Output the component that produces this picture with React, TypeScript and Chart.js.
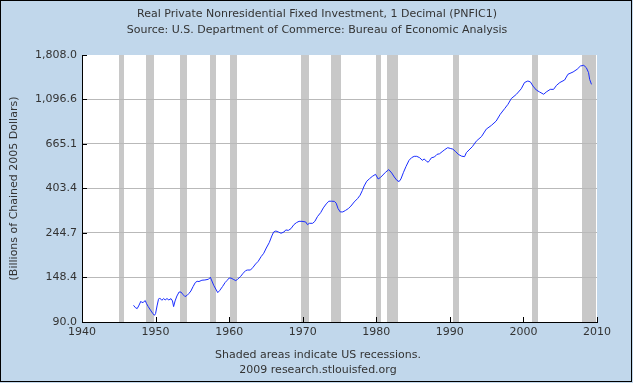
import React, { useEffect, useRef } from "react";
import { Chart, registerables } from "chart.js";

Chart.register(...registerables);

// Observation dates (decimal years) and values (billions of chained 2005 dollars)
const dates = [
  1947.0, 1947.25, 1947.5, 1947.7, 1948.0, 1948.15, 1948.35, 1948.6, 1948.75, 1949.0,
  1949.3, 1949.6, 1949.85, 1950.0, 1950.2, 1950.4, 1950.55, 1950.85, 1951.1, 1951.3,
  1951.55, 1951.8, 1952.1, 1952.3, 1952.45, 1952.65, 1952.9, 1953.2, 1953.45, 1953.7,
  1954.0, 1954.3, 1954.55, 1954.8, 1955.1, 1955.4, 1955.65, 1955.9, 1956.3, 1956.7,
  1957.2, 1957.45, 1957.6, 1957.9, 1958.25, 1958.45, 1958.7, 1959.1, 1959.45, 1959.7,
  1960.0, 1960.25, 1960.55, 1960.9, 1961.15, 1961.55, 1961.9, 1962.25, 1962.5, 1962.9,
  1963.25, 1963.6, 1963.95, 1964.35, 1964.7, 1965.05, 1965.45, 1965.8, 1966.05, 1966.35,
  1966.7, 1967.05, 1967.45, 1967.7, 1968.05, 1968.4, 1968.8, 1969.15, 1969.5, 1969.9,
  1970.4, 1970.65, 1970.9, 1971.35, 1971.65, 1972.0, 1972.45, 1972.8, 1973.2, 1973.55,
  1973.9, 1974.3, 1974.55, 1974.8, 1975.1, 1975.45, 1975.8, 1976.2, 1976.55, 1977.0,
  1977.45, 1977.8, 1978.1, 1978.35, 1978.7, 1979.1, 1979.45, 1979.9, 1980.25, 1980.55,
  1980.9, 1981.25, 1981.7, 1982.1, 1982.45, 1982.8, 1983.1, 1983.35, 1983.7, 1984.05,
  1984.45, 1984.8, 1985.15, 1985.5, 1985.9, 1986.25, 1986.5, 1986.8, 1987.05, 1987.25,
  1987.5, 1987.9, 1988.25, 1988.6, 1988.95, 1989.3, 1989.7, 1990.05, 1990.4, 1990.8,
  1991.15, 1991.6, 1992.0, 1992.25, 1993.05, 1993.6, 1994.3, 1994.95, 1995.65, 1996.3,
  1996.85, 1997.45, 1997.9, 1998.35, 1999.05, 1999.7, 2000.15, 2000.6, 2000.95, 2001.3,
  2001.75, 2002.2, 2002.75, 2003.1, 2003.65, 2004.1, 2004.5, 2004.95, 2005.6, 2006.05,
  2006.75, 2007.3, 2007.75, 2008.2, 2008.55, 2008.85, 2009.0, 2009.25,
];

const values = [
  108.6, 105.8, 104.6, 107.8, 113.6, 111.9, 112.5, 114.5, 111.0, 107.0,
  103.0, 99.3, 97.0, 98.9, 107.8, 116.2, 117.9, 114.9, 117.1, 115.3,
  117.1, 115.3, 117.0, 114.0, 107.0, 114.0, 120.5, 126.1, 126.0, 122.9,
  119.7, 121.5, 124.2, 127.5, 134.0, 140.2, 142.2, 141.8, 143.9, 144.3,
  145.5, 148.8, 144.3, 136.0, 129.0, 125.2, 128.0, 134.0, 140.2, 143.3,
  147.5, 147.5, 145.5, 143.3, 145.5, 150.0, 155.6, 160.4, 161.4, 161.4,
  166.5, 172.8, 178.0, 187.7, 194.8, 206.7, 219.6, 236.6, 247.4, 250.2,
  247.4, 244.0, 247.4, 253.2, 252.0, 256.9, 268.7, 274.9, 278.9, 278.9,
  277.0, 268.7, 272.8, 272.8, 278.9, 294.0, 308.0, 324.4, 339.3, 349.7,
  349.7, 349.0, 342.0, 322.0, 310.0, 310.0, 315.0, 322.0, 331.0, 346.8,
  360.0, 374.0, 394.0, 415.0, 437.6, 451.0, 462.0, 473.0, 449.0, 456.0,
  469.6, 484.0, 498.8, 480.0, 459.0, 442.0, 436.0, 449.0, 484.0, 517.6,
  553.6, 570.5, 579.0, 579.0, 570.0, 553.6, 562.0, 549.6, 541.6, 553.6,
  570.0, 574.6, 592.0, 596.0, 610.0, 624.0, 638.0, 633.0, 628.0, 610.0,
  592.0, 580.0, 577.0, 604.0, 645.0, 687.0, 723.0, 786.0, 820.0, 861.0,
  929.0, 990.0, 1039.0, 1108.0, 1163.0, 1237.0, 1327.0, 1350.0, 1336.0, 1275.0,
  1220.0, 1193.0, 1163.0, 1193.0, 1229.0, 1229.0, 1286.0, 1327.0, 1365.0, 1456.0,
  1494.0, 1540.0, 1598.0, 1610.0, 1568.0, 1484.0, 1376.0, 1300.0,
];

// US recessions (decimal years)
const recessionStart = [1945.0, 1948.75, 1953.35, 1957.45, 1960.17, 1969.83, 1973.8, 1979.95, 1981.45, 1990.4, 2001.12, 2007.93];
const recessionEnd = [1945.75, 1949.83, 1954.3, 1958.27, 1961.08, 1970.92, 1975.22, 1980.58, 1982.9, 1991.2, 2001.93, 2009.85];

const yTicks = [90.0, 148.4, 244.7, 403.4, 665.1, 1096.6, 1808.0];
const xTicks = [1940, 1950, 1960, 1970, 1980, 1990, 2000, 2010];

const titleLines = [
  "Real Private Nonresidential Fixed Investment, 1 Decimal (PNFIC1)",
  "Source: U.S. Department of Commerce: Bureau of Economic Analysis",
];
const footerLines = ["Shaded areas indicate US recessions.", "2009 research.stlouisfed.org"];
const yTitle = "(Billions of Chained 2005 Dollars)";

export default function App() {
  const ref = useRef<HTMLCanvasElement>(null);

  useEffect(() => {
    const FONT = '"DejaVu Sans", Verdana, sans-serif';
    const TEXT = "#333333";
    const BG = "#c1d7eb";

    const decor = {
      id: "decor",
      beforeDraw(chart: any) {
        const { ctx, width, height, chartArea: a, scales } = chart;
        ctx.save();
        ctx.fillStyle = BG;
        ctx.fillRect(0, 0, width, height);
        ctx.fillStyle = "#ffffff";
        ctx.fillRect(a.left, a.top, a.right - a.left, a.bottom - a.top);
        ctx.fillStyle = "#c8c8c8";
        recessionStart.forEach((s, i) => {
          const x0 = Math.max(scales.x.getPixelForValue(s), a.left);
          const x1 = Math.min(scales.x.getPixelForValue(recessionEnd[i]), a.right);
          ctx.fillRect(Math.round(x0), a.top, Math.round(x1) - Math.round(x0), a.bottom - a.top);
        });
        ctx.restore();
      },
      afterDraw(chart: any) {
        const { ctx, width, height, chartArea: a, scales } = chart;
        ctx.save();
        // inside tick marks
        ctx.strokeStyle = "#000000";
        ctx.lineWidth = 1;
        ctx.beginPath();
        scales.y.ticks.forEach((t: any) => {
          const y = Math.round(scales.y.getPixelForValue(t.value)) + 0.5;
          ctx.moveTo(a.left, y);
          ctx.lineTo(a.left + 5, y);
        });
        scales.x.ticks.forEach((t: any) => {
          const x = Math.round(scales.x.getPixelForValue(t.value)) + 0.5;
          ctx.moveTo(x, a.bottom);
          ctx.lineTo(x, a.bottom - 5);
        });
        ctx.stroke();

        // texts
        ctx.fillStyle = TEXT;
        ctx.font = "11px " + FONT;
        ctx.textAlign = "center";
        ctx.textBaseline = "middle";
        ctx.fillText(titleLines[0], 317, 14);
        ctx.fillText(titleLines[1], 317, 30);
        ctx.fillText(footerLines[0], 318, 355);
        ctx.fillText(footerLines[1], 318, 370);

        ctx.save();
        ctx.translate(14, (a.top + a.bottom) / 2);
        ctx.rotate(-Math.PI / 2);
        ctx.fillText(yTitle, 0, 0);
        ctx.restore();

        // outer border
        ctx.strokeStyle = "#000000";
        ctx.strokeRect(0.5, 0.5, width - 2, height - 2);
        ctx.restore();
      },
    };

    const chart = new Chart(ref.current as HTMLCanvasElement, {
      type: "line",
      data: {
        datasets: [
          {
            data: dates.map((d, i) => ({ x: d, y: values[i] })),
            borderColor: "#1a2dff",
            borderWidth: 1,
            pointRadius: 0,
            tension: 0,
            fill: false,
          },
        ],
      },
      options: {
        animation: false,
        responsive: false,
        devicePixelRatio: 1,
        layout: { padding: { top: 55, right: 36, left: 0, bottom: 0 } },
        plugins: { legend: { display: false }, tooltip: { enabled: false }, title: { display: false } },
        scales: {
          x: {
            type: "linear",
            min: 1940,
            max: 2010,
            afterFit: (s: any) => {
              s.height = 61;
            },
            afterBuildTicks: (s: any) => {
              s.ticks = xTicks.map((v) => ({ value: v }));
            },
            ticks: {
              color: TEXT,
              font: { family: FONT, size: 11 },
              padding: 4,
              maxRotation: 0,
              autoSkip: false,
              callback: (v: any) => String(v),
            },
            grid: { display: true, drawOnChartArea: false, drawTicks: false },
            border: { display: true, color: "#000000", width: 1 },
          },
          y: {
            type: "logarithmic",
            min: 90,
            max: 1808,
            afterFit: (s: any) => {
              s.width = 82;
            },
            afterBuildTicks: (s: any) => {
              s.ticks = yTicks.map((v) => ({ value: v }));
            },
            ticks: {
              color: TEXT,
              font: { family: FONT, size: 11 },
              padding: 5,
              autoSkip: false,
              callback: (v: any) =>
                Number(v).toLocaleString("en-US", { minimumFractionDigits: 1, maximumFractionDigits: 1 }),
            },
            grid: {
              drawTicks: false,
              color: (c: any) =>
                c.tick && (c.tick.value === 1808 || c.tick.value === 90) ? "rgba(0,0,0,0)" : "#b9b9b9",
              lineWidth: 1,
            },
            border: { display: true, color: "#000000", width: 1 },
          },
        },
      },
      plugins: [decor],
    } as any);

    return () => chart.destroy();
  }, []);

  return (
    <div style={{ position: "fixed", left: 0, top: 0, width: 633, height: 383 }}>
      <canvas ref={ref} width={633} height={383} style={{ display: "block", width: 633, height: 383 }} />
    </div>
  );
}
